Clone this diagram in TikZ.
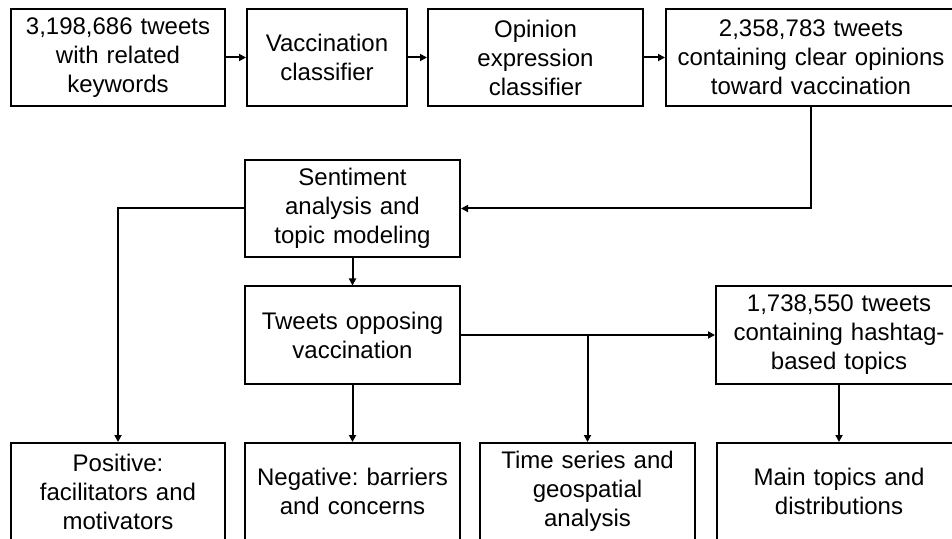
\documentclass[tikz,border=0pt]{standalone}
\usepackage{fontspec}
\setmainfont{Liberation Sans}
\frenchspacing
\usetikzlibrary{arrows.meta}
\begin{document}
\begin{tikzpicture}[x=0.5pt,y=-0.5pt,
	box/.style={draw,line width=1pt,align=center,inner sep=2pt,
		minimum height=48.5pt,font=\fontsize{12}{14.5}\selectfont},
	arr/.style={line width=1pt,-{Triangle[length=3.5pt,width=3.5pt]}}]
	\useasboundingbox (0,0) rectangle (952,539);
	% top row
	\node[box,text width=103pt] (tw) at (118,57.5) {3,198,686 tweets\\with related\\keywords};
	\node[box,text width=76pt] (vc) at (327,57.5) {Vaccination\\classifier};
	\node[box,text width=103.5pt] (oc) at (535.5,57.5) {Opinion\\expression\\classifier};
	\node[box,text width=141pt] (clr) at (811,57.5) {2,358,783 tweets\\containing clear opinions\\toward vaccination};
	% middle
	\node[box,text width=103.5pt] (sa) at (352.5,208.5) {Sentiment\\analysis and\\topic modeling};
	\node[box,text width=103.5pt] (op) at (352.5,335) {Tweets opposing\\vaccination};
	\node[box,text width=119pt] (ht) at (839,335) {1,738,550 tweets\\containing hashtag-\\based topics};
	% bottom row
	\node[box,text width=103pt] (pos) at (118,491.5) {Positive:\\facilitators and\\motivators};
	\node[box,text width=103.5pt] (neg) at (352.5,491.5) {Negative: barriers\\and concerns};
	\node[box,text width=103.5pt] (ts) at (587.5,491.5) {Time series and\\geospatial\\analysis};
	\node[box,text width=118pt] (mt) at (839,491.5) {Main topics and\\distributions};
	% connectors
	\draw[arr] (tw) -- (vc);
	\draw[arr] (vc) -- (oc);
	\draw[arr] (oc) -- (clr);
	\draw[arr] (clr.south) |- (sa.east);
	\draw[arr] (sa.west) -| (pos.north);
	\draw[arr] (sa) -- (op);
	\draw[arr] (op) -- (ht);
	\draw[arr] (op) -- (neg);
	\coordinate (br) at (ts.north |- op.east);
	\draw[arr] (br) -- (ts.north);
	\draw[arr] (ht) -- (mt);
\end{tikzpicture}
\end{document}
